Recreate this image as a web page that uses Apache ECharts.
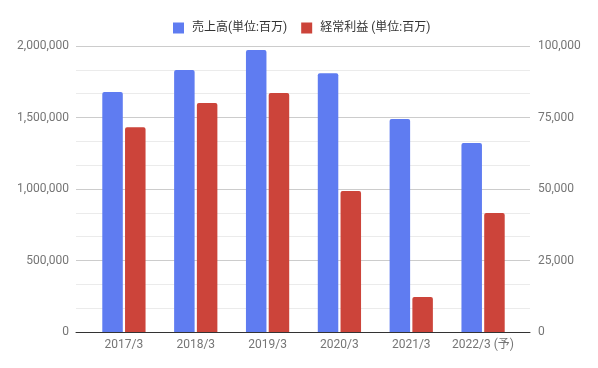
<!DOCTYPE html>
<html><head><meta charset="utf-8">
<script src="https://cdn.jsdelivr.net/npm/echarts@6/dist/echarts.min.js"></script>
<style>html,body{margin:0;padding:0;background:#fff}#c{width:598px;height:368px}</style>
</head><body><div id="c"></div>
<script>
var categories = ['2017/3','2018/3','2019/3','2020/3','2021/3','2022/3 (予)'];
var salesName = '売上高(単位:百万)';
var profitName = '経常利益 (単位:百万)';
var sales = [1678000, 1832000, 1972000, 1810000, 1490000, 1322000];
var profit = [71600, 80100, 83600, 49300, 12200, 41600];
var leftTicks = [0, 500000, 1000000, 1500000, 2000000];
var rightTicks = [0, 25000, 50000, 75000, 100000];

var FONT = 'Roboto, "Noto Sans CJK JP", sans-serif';
var fmt = function(v){ return Number(v).toLocaleString('en-US'); };
var chart = echarts.init(document.getElementById('c'), null, {renderer:'canvas'});
chart.setOption({
  animation:false,
  textStyle:{fontFamily:FONT},
  legend:{
    left:168, top:17, itemWidth:11, itemHeight:11, itemGap:14, icon:'rect',
    textStyle:{fontFamily:FONT, fontSize:12, color:'#333', padding:[0,0,0,3]},
    data:[salesName, profitName]
  },
  grid:[
    {left:76, right:68, top:46, bottom:36},
    {left:88, right:79, top:46, bottom:36}
  ],
  xAxis:[
    {type:'category', gridIndex:0, data:categories,
     axisLine:{show:true, lineStyle:{color:'#333', width:1}},
     axisTick:{show:false}, axisLabel:{show:false}, splitLine:{show:false}},
    {type:'category', gridIndex:1, data:categories,
     axisLine:{show:false}, axisTick:{show:false},
     axisLabel:{color:'#757575', fontSize:12, fontFamily:FONT, margin:7, interval:0}}
  ],
  yAxis:[
    {type:'value', gridIndex:0, position:'left', min:leftTicks[0], max:leftTicks[leftTicks.length-1], interval:500000,
     axisLine:{show:false}, axisTick:{show:false},
     axisLabel:{color:'#757575', fontSize:12, fontFamily:FONT, margin:7, formatter:fmt},
     splitLine:{show:true, lineStyle:{color:'#cccccc'}},
     minorTick:{show:false, splitNumber:3},
     minorSplitLine:{show:true, lineStyle:{color:'#ebebeb'}}},
    {type:'value', gridIndex:0, position:'right', min:rightTicks[0], max:rightTicks[rightTicks.length-1], interval:25000,
     axisLine:{show:false}, axisTick:{show:false},
     axisLabel:{color:'#757575', fontSize:12, fontFamily:FONT, margin:8, formatter:fmt},
     splitLine:{show:false}},
    {type:'value', gridIndex:1, min:0, max:2000000, show:false, splitLine:{show:false}},
    {type:'value', gridIndex:1, min:0, max:100000, show:false, splitLine:{show:false}}
  ],
  series:[
    {name:salesName, type:'bar', xAxisIndex:1, yAxisIndex:2, data:sales,
     barWidth:20.5, barGap:'11%', itemStyle:{color:'#5f7cf1', borderRadius:[2,2,0,0]}},
    {name:profitName, type:'bar', xAxisIndex:1, yAxisIndex:3, data:profit,
     barWidth:20.5, barGap:'11%', itemStyle:{color:'#cc443a', borderRadius:[2,2,0,0]}}
  ]
});
</script></body></html>
